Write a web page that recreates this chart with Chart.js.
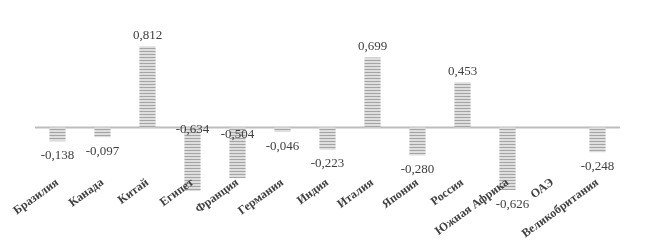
<!DOCTYPE html>
<html>
<head>
<meta charset="utf-8">
<script src="https://cdn.jsdelivr.net/npm/chart.js@4/dist/chart.umd.min.js"></script>
<style>
  html, body { margin: 0; padding: 0; background: #fff; }
  #wrap { width: 659px; height: 248px; position: relative; }
</style>
</head>
<body>
<div id="wrap"><canvas id="barChart"></canvas></div>
<script>
// data
const countries = ['Бразилия', 'Канада', 'Китай', 'Египет', 'Франция', 'Германия', 'Индия',
    'Италия', 'Япония', 'Россия', 'Южная Африка', 'ОАЭ', 'Великобритания'];
const values = [-0.138, -0.097, 0.812, -0.634, -0.504, -0.046, -0.223,
    0.699, -0.280, 0.453, -0.626, null, -0.248];

function stripes() {
    // horizontal gray/white hatch like the original bars
    const c = document.createElement('canvas');
    c.width = 1;
    c.height = 3;
    const g = c.getContext('2d');
    g.fillStyle = '#dedede';
    g.fillRect(0, 0, 1, 3);
    g.fillStyle = '#a4a4a4';
    g.fillRect(0, 0, 1, 1);
    return g.createPattern(c, 'repeat');
}

const fmt = v => v.toFixed(3).replace('.', ',');

// zero line + value labels
const labelsPlugin = {
    id: 'valueLabels',
    beforeDatasetsDraw(chart) {
        const { ctx, chartArea, scales } = chart;
        const y0 = scales.y.getPixelForValue(0);
        ctx.save();
        ctx.strokeStyle = '#bdbdbd';
        ctx.lineWidth = 2;
        ctx.beginPath();
        ctx.moveTo(chartArea.left, y0);
        ctx.lineTo(chartArea.right, y0);
        ctx.stroke();
        ctx.restore();
    },
    afterDatasetsDraw(chart, args, opts) {
        const { ctx, scales } = chart;
        const y0 = scales.y.getPixelForValue(0);
        const meta = chart.getDatasetMeta(0);
        ctx.save();
        ctx.font = '13px "Liberation Serif", "Times New Roman", serif';
        ctx.fillStyle = '#404040';
        ctx.textAlign = 'center';
        ctx.textBaseline = 'middle';
        meta.data.forEach((bar, i) => {
            const v = values[i];
            if (v === null || v === undefined) return;
            let y;
            if (opts.nearAxis[i] !== undefined) {
                y = y0 + opts.nearAxis[i];
            } else if (v >= 0) {
                y = bar.y - 11;
            } else {
                y = bar.y + 14;
            }
            ctx.fillText(fmt(v), bar.x + (opts.shiftX[i] || 0), y);
        });
        ctx.restore();
    }
};

const chart = new Chart(document.getElementById('barChart').getContext('2d'), {
    type: 'bar',
    data: {
        labels: countries,
        datasets: [{
            data: values,
            backgroundColor: stripes(),
            borderWidth: 0,
            barPercentage: 0.36,
            categoryPercentage: 1
        }]
    },
    options: {
        responsive: true,
        maintainAspectRatio: false,
        animation: false,
        layout: {
            padding: { left: 35, right: 39, top: 27.5, bottom: 20.5 }
        },
        plugins: {
            legend: { display: false },
            tooltip: { enabled: false },
            valueLabels: {
                nearAxis: { 3: 2, 4: 7 },
                shiftX: { 10: 5 }
            }
        },
        scales: {
            x: {
                position: { y: -0.46 },
                grid: { display: false, drawTicks: false },
                border: { display: false },
                ticks: {
                    z: 1, // category names sit on top of the bars
                    autoSkip: false,
                    minRotation: 36,
                    maxRotation: 36,
                    padding: 2,
                    color: '#404040',
                    font: { family: '"Liberation Serif", "Times New Roman", serif', size: 12, weight: 'bold' }
                }
            },
            y: {
                display: false,
                min: -1,
                max: 1
            }
        }
    },
    plugins: [labelsPlugin]
});
</script>
</body>
</html>
